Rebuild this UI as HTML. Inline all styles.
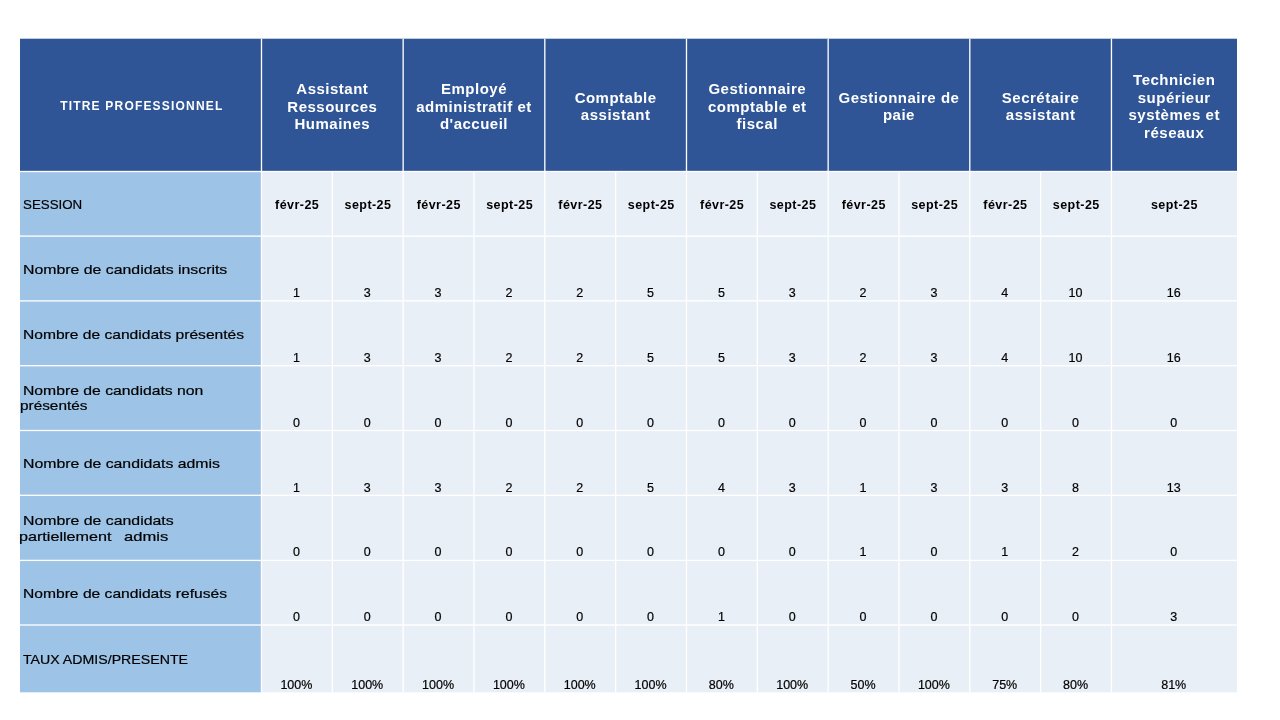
<!DOCTYPE html>
<html><head><meta charset="utf-8"><style>
*{margin:0;padding:0;box-sizing:border-box}
html,body{width:1280px;height:720px;background:#fff;overflow:hidden}
body{position:relative;font-family:"Liberation Sans",sans-serif}
.t{position:absolute;left:0;top:0;width:1280px;height:720px;will-change:transform}
.b{position:absolute}
.vl{position:absolute;width:1.5px}
.hl{position:absolute;height:1.5px}
.h{position:absolute;display:flex;align-items:center;justify-content:center;text-align:center;color:#fff;font-weight:700;font-size:15px;line-height:17.5px;letter-spacing:0.5px}
.lab{position:absolute;transform-origin:0 0;-webkit-text-stroke:0.2px #000;color:#000;font-size:13px;line-height:15px;white-space:pre}
.ses{position:absolute;text-align:center;font-weight:700;font-size:12.5px;letter-spacing:0.45px;text-indent:0.45px;line-height:15px;color:#000;white-space:nowrap}
.num{position:absolute;-webkit-text-stroke:0.2px #000;text-align:center;font-size:12.5px;line-height:15px;color:#000;white-space:nowrap}
</style></head><body>

<svg class="b" style="left:0;top:0" width="1280" height="720" viewBox="0 0 1280 720"><rect x="20" y="38.7" width="1217" height="132.8" fill="#2F5597"/><rect x="20" y="171.5" width="241.5" height="520.8" fill="#9DC3E6"/><rect x="261.5" y="171.5" width="975.50" height="520.8" fill="#E9EFF7"/><rect x="260.83" y="38.7" width="1.33" height="653.5999999999999" fill="#fff"/><rect x="331.66" y="171.5" width="1.33" height="520.8" fill="#fff"/><rect x="402.49" y="38.7" width="1.33" height="653.5999999999999" fill="#fff"/><rect x="473.32" y="171.5" width="1.33" height="520.8" fill="#fff"/><rect x="544.15" y="38.7" width="1.33" height="653.5999999999999" fill="#fff"/><rect x="614.99" y="171.5" width="1.33" height="520.8" fill="#fff"/><rect x="685.82" y="38.7" width="1.33" height="653.5999999999999" fill="#fff"/><rect x="756.64" y="171.5" width="1.33" height="520.8" fill="#fff"/><rect x="827.48" y="38.7" width="1.33" height="653.5999999999999" fill="#fff"/><rect x="898.31" y="171.5" width="1.33" height="520.8" fill="#fff"/><rect x="969.13" y="38.7" width="1.33" height="653.5999999999999" fill="#fff"/><rect x="1039.97" y="171.5" width="1.33" height="520.8" fill="#fff"/><rect x="1110.80" y="38.7" width="1.33" height="653.5999999999999" fill="#fff"/><rect x="20" y="170.84" width="1217" height="1.33" fill="#fff"/><rect x="20" y="235.44" width="1217" height="1.33" fill="#fff"/><rect x="20" y="300.23" width="1217" height="1.33" fill="#fff"/><rect x="20" y="365.03" width="1217" height="1.33" fill="#fff"/><rect x="20" y="429.83" width="1217" height="1.33" fill="#fff"/><rect x="20" y="494.63" width="1217" height="1.33" fill="#fff"/><rect x="20" y="559.74" width="1217" height="1.33" fill="#fff"/><rect x="20" y="624.34" width="1217" height="1.33" fill="#fff"/></svg>
<div class="t">
<div class="h" style="left:20.00px;top:40.0px;width:241.50px;height:132.80px;font-size:12px;letter-spacing:1.19px;padding-left:2.2px;"><div>TITRE PROFESSIONNEL</div></div>
<div class="h" style="left:261.50px;top:40.0px;width:141.66px;height:132.80px;"><div>Assistant<br>Ressources<br>Humaines</div></div>
<div class="h" style="left:403.16px;top:40.0px;width:141.66px;height:132.80px;"><div>Employé<br>administratif et<br>d'accueil</div></div>
<div class="h" style="left:544.82px;top:40.0px;width:141.66px;height:132.80px;"><div>Comptable<br>assistant</div></div>
<div class="h" style="left:686.48px;top:40.0px;width:141.66px;height:132.80px;"><div>Gestionnaire<br>comptable et<br>fiscal</div></div>
<div class="h" style="left:828.14px;top:40.0px;width:141.66px;height:132.80px;"><div>Gestionnaire de<br>paie</div></div>
<div class="h" style="left:969.80px;top:40.0px;width:141.66px;height:132.80px;"><div>Secrétaire<br>assistant</div></div>
<div class="h" style="left:1111.46px;top:40.0px;width:125.54px;height:132.80px;"><div>Technicien<br>supérieur<br>systèmes et<br>réseaux</div></div>
<div class="lab" style="left:22.58px;top:197.00px;transform:scaleX(1.0250)">SESSION</div>
<div class="lab" style="left:22.98px;top:262.00px;transform:scaleX(1.2187)">Nombre de candidats inscrits</div>
<div class="lab" style="left:23.00px;top:327.00px;transform:scaleX(1.1995)">Nombre de candidats présentés</div>
<div class="lab" style="left:22.99px;top:383.00px;transform:scaleX(1.2109)">Nombre de candidats non</div>
<div class="lab" style="left:19.52px;top:398.30px;transform:scaleX(1.1804)">présentés</div>
<div class="lab" style="left:22.98px;top:456.00px;transform:scaleX(1.2169)">Nombre de candidats admis</div>
<div class="lab" style="left:23.28px;top:513.00px;transform:scaleX(1.2189)">Nombre de candidats</div>
<div class="lab" style="left:19.46px;top:528.80px;transform:scaleX(1.2432)">partiellement</div>
<div class="lab" style="left:123.62px;top:528.80px;transform:scaleX(1.2758)">admis</div>
<div class="lab" style="left:23.00px;top:586.00px;transform:scaleX(1.2012)">Nombre de candidats refusés</div>
<div class="lab" style="left:23.11px;top:652.00px;transform:scaleX(1.0894)">TAUX ADMIS/PRESENTE</div>
<div class="ses" style="left:261.50px;width:70.83px;top:198.17px">févr-25</div>
<div class="ses" style="left:332.33px;width:70.83px;top:198.17px">sept-25</div>
<div class="ses" style="left:403.16px;width:70.83px;top:198.17px">févr-25</div>
<div class="ses" style="left:473.99px;width:70.83px;top:198.17px">sept-25</div>
<div class="ses" style="left:544.82px;width:70.83px;top:198.17px">févr-25</div>
<div class="ses" style="left:615.65px;width:70.83px;top:198.17px">sept-25</div>
<div class="ses" style="left:686.48px;width:70.83px;top:198.17px">févr-25</div>
<div class="ses" style="left:757.31px;width:70.83px;top:198.17px">sept-25</div>
<div class="ses" style="left:828.14px;width:70.83px;top:198.17px">févr-25</div>
<div class="ses" style="left:898.97px;width:70.83px;top:198.17px">sept-25</div>
<div class="ses" style="left:969.80px;width:70.83px;top:198.17px">févr-25</div>
<div class="ses" style="left:1040.63px;width:70.83px;top:198.17px">sept-25</div>
<div class="ses" style="left:1111.46px;width:125.54px;top:198.17px">sept-25</div>
<div class="num" style="left:261.00px;width:70.83px;top:286.17px">1</div>
<div class="num" style="left:331.83px;width:70.83px;top:286.17px">3</div>
<div class="num" style="left:402.66px;width:70.83px;top:286.17px">3</div>
<div class="num" style="left:473.49px;width:70.83px;top:286.17px">2</div>
<div class="num" style="left:544.32px;width:70.83px;top:286.17px">2</div>
<div class="num" style="left:615.15px;width:70.83px;top:286.17px">5</div>
<div class="num" style="left:685.98px;width:70.83px;top:286.17px">5</div>
<div class="num" style="left:756.81px;width:70.83px;top:286.17px">3</div>
<div class="num" style="left:827.64px;width:70.83px;top:286.17px">2</div>
<div class="num" style="left:898.47px;width:70.83px;top:286.17px">3</div>
<div class="num" style="left:969.30px;width:70.83px;top:286.17px">4</div>
<div class="num" style="left:1040.13px;width:70.83px;top:286.17px">10</div>
<div class="num" style="left:1110.96px;width:125.54px;top:286.17px">16</div>
<div class="num" style="left:261.00px;width:70.83px;top:351.17px">1</div>
<div class="num" style="left:331.83px;width:70.83px;top:351.17px">3</div>
<div class="num" style="left:402.66px;width:70.83px;top:351.17px">3</div>
<div class="num" style="left:473.49px;width:70.83px;top:351.17px">2</div>
<div class="num" style="left:544.32px;width:70.83px;top:351.17px">2</div>
<div class="num" style="left:615.15px;width:70.83px;top:351.17px">5</div>
<div class="num" style="left:685.98px;width:70.83px;top:351.17px">5</div>
<div class="num" style="left:756.81px;width:70.83px;top:351.17px">3</div>
<div class="num" style="left:827.64px;width:70.83px;top:351.17px">2</div>
<div class="num" style="left:898.47px;width:70.83px;top:351.17px">3</div>
<div class="num" style="left:969.30px;width:70.83px;top:351.17px">4</div>
<div class="num" style="left:1040.13px;width:70.83px;top:351.17px">10</div>
<div class="num" style="left:1110.96px;width:125.54px;top:351.17px">16</div>
<div class="num" style="left:261.00px;width:70.83px;top:416.17px">0</div>
<div class="num" style="left:331.83px;width:70.83px;top:416.17px">0</div>
<div class="num" style="left:402.66px;width:70.83px;top:416.17px">0</div>
<div class="num" style="left:473.49px;width:70.83px;top:416.17px">0</div>
<div class="num" style="left:544.32px;width:70.83px;top:416.17px">0</div>
<div class="num" style="left:615.15px;width:70.83px;top:416.17px">0</div>
<div class="num" style="left:685.98px;width:70.83px;top:416.17px">0</div>
<div class="num" style="left:756.81px;width:70.83px;top:416.17px">0</div>
<div class="num" style="left:827.64px;width:70.83px;top:416.17px">0</div>
<div class="num" style="left:898.47px;width:70.83px;top:416.17px">0</div>
<div class="num" style="left:969.30px;width:70.83px;top:416.17px">0</div>
<div class="num" style="left:1040.13px;width:70.83px;top:416.17px">0</div>
<div class="num" style="left:1110.96px;width:125.54px;top:416.17px">0</div>
<div class="num" style="left:261.00px;width:70.83px;top:481.17px">1</div>
<div class="num" style="left:331.83px;width:70.83px;top:481.17px">3</div>
<div class="num" style="left:402.66px;width:70.83px;top:481.17px">3</div>
<div class="num" style="left:473.49px;width:70.83px;top:481.17px">2</div>
<div class="num" style="left:544.32px;width:70.83px;top:481.17px">2</div>
<div class="num" style="left:615.15px;width:70.83px;top:481.17px">5</div>
<div class="num" style="left:685.98px;width:70.83px;top:481.17px">4</div>
<div class="num" style="left:756.81px;width:70.83px;top:481.17px">3</div>
<div class="num" style="left:827.64px;width:70.83px;top:481.17px">1</div>
<div class="num" style="left:898.47px;width:70.83px;top:481.17px">3</div>
<div class="num" style="left:969.30px;width:70.83px;top:481.17px">3</div>
<div class="num" style="left:1040.13px;width:70.83px;top:481.17px">8</div>
<div class="num" style="left:1110.96px;width:125.54px;top:481.17px">13</div>
<div class="num" style="left:261.00px;width:70.83px;top:545.17px">0</div>
<div class="num" style="left:331.83px;width:70.83px;top:545.17px">0</div>
<div class="num" style="left:402.66px;width:70.83px;top:545.17px">0</div>
<div class="num" style="left:473.49px;width:70.83px;top:545.17px">0</div>
<div class="num" style="left:544.32px;width:70.83px;top:545.17px">0</div>
<div class="num" style="left:615.15px;width:70.83px;top:545.17px">0</div>
<div class="num" style="left:685.98px;width:70.83px;top:545.17px">0</div>
<div class="num" style="left:756.81px;width:70.83px;top:545.17px">0</div>
<div class="num" style="left:827.64px;width:70.83px;top:545.17px">1</div>
<div class="num" style="left:898.47px;width:70.83px;top:545.17px">0</div>
<div class="num" style="left:969.30px;width:70.83px;top:545.17px">1</div>
<div class="num" style="left:1040.13px;width:70.83px;top:545.17px">2</div>
<div class="num" style="left:1110.96px;width:125.54px;top:545.17px">0</div>
<div class="num" style="left:261.00px;width:70.83px;top:610.17px">0</div>
<div class="num" style="left:331.83px;width:70.83px;top:610.17px">0</div>
<div class="num" style="left:402.66px;width:70.83px;top:610.17px">0</div>
<div class="num" style="left:473.49px;width:70.83px;top:610.17px">0</div>
<div class="num" style="left:544.32px;width:70.83px;top:610.17px">0</div>
<div class="num" style="left:615.15px;width:70.83px;top:610.17px">0</div>
<div class="num" style="left:685.98px;width:70.83px;top:610.17px">1</div>
<div class="num" style="left:756.81px;width:70.83px;top:610.17px">0</div>
<div class="num" style="left:827.64px;width:70.83px;top:610.17px">0</div>
<div class="num" style="left:898.47px;width:70.83px;top:610.17px">0</div>
<div class="num" style="left:969.30px;width:70.83px;top:610.17px">0</div>
<div class="num" style="left:1040.13px;width:70.83px;top:610.17px">0</div>
<div class="num" style="left:1110.96px;width:125.54px;top:610.17px">3</div>
<div class="num" style="left:261.00px;width:70.83px;top:678.17px">100%</div>
<div class="num" style="left:331.83px;width:70.83px;top:678.17px">100%</div>
<div class="num" style="left:402.66px;width:70.83px;top:678.17px">100%</div>
<div class="num" style="left:473.49px;width:70.83px;top:678.17px">100%</div>
<div class="num" style="left:544.32px;width:70.83px;top:678.17px">100%</div>
<div class="num" style="left:615.15px;width:70.83px;top:678.17px">100%</div>
<div class="num" style="left:685.98px;width:70.83px;top:678.17px">80%</div>
<div class="num" style="left:756.81px;width:70.83px;top:678.17px">100%</div>
<div class="num" style="left:827.64px;width:70.83px;top:678.17px">50%</div>
<div class="num" style="left:898.47px;width:70.83px;top:678.17px">100%</div>
<div class="num" style="left:969.30px;width:70.83px;top:678.17px">75%</div>
<div class="num" style="left:1040.13px;width:70.83px;top:678.17px">80%</div>
<div class="num" style="left:1110.96px;width:125.54px;top:678.17px">81%</div>
</div>
</body></html>
